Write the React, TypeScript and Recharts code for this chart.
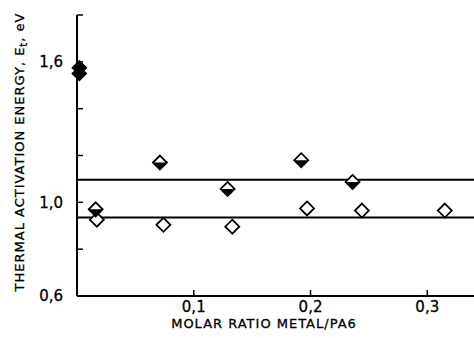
import { ScatterChart, Scatter, XAxis, YAxis, ReferenceLine } from 'recharts';

// metal/PA6 molar ratio vs thermal activation energy (eV)
const pureX = [0.002, 0.002];
const pureY = [1.575, 1.55];

const halfX = [0.016, 0.071, 0.129, 0.192, 0.236];
const halfY = [0.97, 1.17, 1.057, 1.18, 1.087];

const openX = [0.017, 0.074, 0.133, 0.197, 0.244, 0.315];
const openY = [0.926, 0.904, 0.896, 0.974, 0.965, 0.965];

const meanLevels = [1.096, 0.935];

const xTicks = [0.1, 0.2, 0.3];
const yTicks = [0.6, 0.8, 1.0, 1.2, 1.4, 1.6, 1.8];
const yLabelled = [0.6, 1.0, 1.6];

const zip = (xs: number[], ys: number[]) => xs.map((x, i) => ({ x, y: ys[i] }));

const FONT = '"DejaVu Sans", sans-serif';
const R = 7;

const comma = (v: number) => v.toFixed(1).replace('.', ',');

function FilledDiamond(props: any) {
  const { cx, cy } = props;
  return (
    <path
      d={`M${cx},${cy - R} L${cx + R},${cy} L${cx},${cy + R} L${cx - R},${cy} Z`}
      fill="#000"
      stroke="#000"
      strokeWidth={1.5}
    />
  );
}

function HalfDiamond(props: any) {
  const { cx, cy } = props;
  return (
    <g>
      <path
        d={`M${cx},${cy - R} L${cx + R},${cy} L${cx},${cy + R} L${cx - R},${cy} Z`}
        fill="#fff"
        stroke="#000"
        strokeWidth={1.8}
      />
      <path d={`M${cx - R},${cy} L${cx + R},${cy} L${cx},${cy + R} Z`} fill="#000" />
    </g>
  );
}

function OpenDiamond(props: any) {
  const { cx, cy } = props;
  return (
    <path
      d={`M${cx},${cy - R} L${cx + R},${cy} L${cx},${cy + R} L${cx - R},${cy} Z`}
      fill="#fff"
      stroke="#000"
      strokeWidth={1.8}
    />
  );
}

export default function App() {
  return (
    <div style={{ position: 'absolute', left: 0, top: 0, width: 474, height: 338, background: '#fff' }}>
      <ScatterChart width={474} height={338} margin={{ top: 15, right: 0, bottom: 0, left: 0 }}>
        <XAxis
          type="number"
          dataKey="x"
          domain={[0, 0.34]}
          ticks={xTicks}
          tickFormatter={comma}
          height={42}
          tickSize={-6}
          tickMargin={11}
          axisLine={{ stroke: '#000', strokeWidth: 2 }}
          tickLine={{ stroke: '#000', strokeWidth: 1.5 }}
          tick={{ fill: '#000', fontSize: 15, fontFamily: FONT, stroke: '#000', strokeWidth: 0.3 }}
        />
        <YAxis
          type="number"
          dataKey="y"
          domain={[0.6, 1.8]}
          ticks={yTicks}
          tickFormatter={(v: number) => (yLabelled.includes(v) ? comma(v) : '')}
          width={77}
          tickSize={-6}
          tickMargin={20}
          axisLine={{ stroke: '#000', strokeWidth: 2 }}
          tickLine={{ stroke: '#000', strokeWidth: 1.5 }}
          tick={{ fill: '#000', fontSize: 15, fontFamily: FONT, stroke: '#000', strokeWidth: 0.3 }}
        />
        {meanLevels.map((v) => (
          <ReferenceLine key={v} y={v} stroke="#000" strokeWidth={2} />
        ))}
        <Scatter data={zip(openX, openY)} shape={OpenDiamond} isAnimationActive={false} />
        <Scatter data={zip(halfX, halfY)} shape={HalfDiamond} isAnimationActive={false} />
        <Scatter data={zip(pureX, pureY)} shape={FilledDiamond} isAnimationActive={false} />
        <text
          x={264}
          y={328}
          textAnchor="middle"
          fontSize={13}
          fontFamily={FONT}
          letterSpacing={1}
          fill="#000"
          stroke="#000"
          strokeWidth={0.3}
        >
          MOLAR RATIO METAL/PA6
        </text>
        <text
          transform="translate(24,152) rotate(-90)"
          textAnchor="middle"
          fontSize={13}
          fontFamily={FONT}
          letterSpacing={1}
          fill="#000"
          stroke="#000"
          strokeWidth={0.3}
        >
          THERMAL ACTIVATION ENERGY, E
          <tspan fontSize={10} dy={3}>t</tspan>
          <tspan dy={-3}>, eV</tspan>
        </text>
      </ScatterChart>
    </div>
  );
}
